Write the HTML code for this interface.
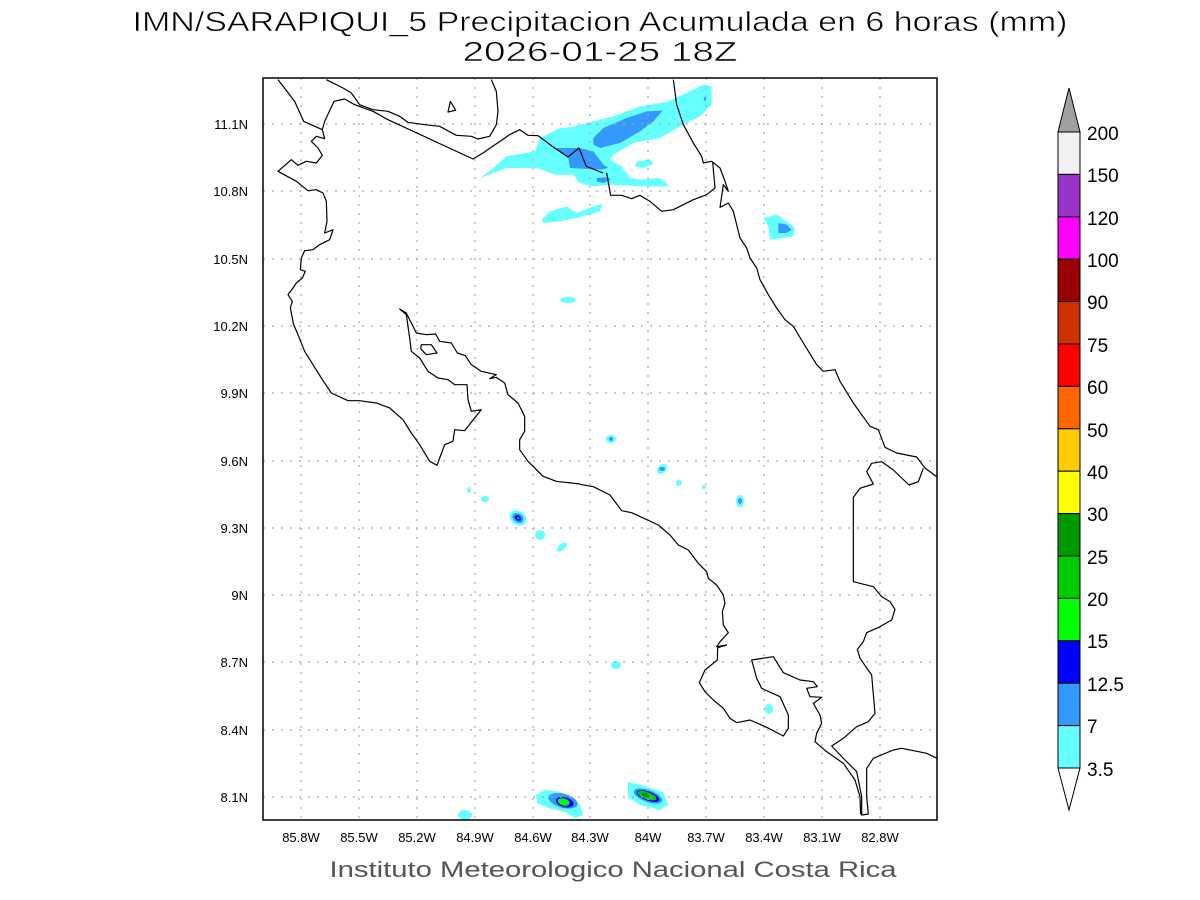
<!DOCTYPE html>
<html><head><meta charset="utf-8"><style>
html,body{margin:0;padding:0;background:#fff}
svg{display:block}
text{font-family:"Liberation Sans",sans-serif}
</style></head><body>
<svg width="1200" height="900" viewBox="0 0 1200 900" xmlns="http://www.w3.org/2000/svg">
<rect width="1200" height="900" fill="#fff"/>
<text x="600" y="31" font-size="28" text-anchor="middle" textLength="935" lengthAdjust="spacingAndGlyphs" fill="#000" stroke="#fff" stroke-width="0.6">IMN/SARAPIQUI_5 Precipitacion Acumulada en 6 horas (mm)</text>
<text x="600" y="61" font-size="28" text-anchor="middle" textLength="275" lengthAdjust="spacingAndGlyphs" fill="#000" stroke="#fff" stroke-width="0.6">2026-01-25 18Z</text>

<g transform="translate(440,78) scale(0.33333)">
<path fill="#66ffff" d="M120,300 L160,270 200,235 285,220 300,180 360,150 390,148 460,130 520,115 600,85 680,72 740,45 790,20 815,25 815,80 780,115 730,140 660,180 580,195 520,230 510,245 545,265 570,300 600,305 660,300 690,325 600,325 510,320 460,325 420,315 400,290 345,290 290,270 200,270 160,285 Z"/>
<path fill="#66ffff" d="M590,250 L630,245 640,258 610,270 585,265Z"/>
<path fill="#66ffff" d="M305,425 L330,400 380,385 410,405 460,385 488,378 480,400 410,420 360,430 310,435Z"/>
<path fill="#66ffff" d="M970,420 L1010,410 1040,430 1065,450 1060,475 1030,480 990,485 985,445Z"/>
<path fill="#3399ff" d="M460,180 L490,150 560,120 620,100 668,98 640,130 600,160 540,195 480,210 460,200Z"/>
<path fill="#3399ff" d="M340,210 L420,210 460,220 490,260 505,270 480,275 390,270 385,240Z"/>
<path fill="#3399ff" d="M470,300 L505,298 512,305 490,315 470,310Z"/>
<path fill="#3399ff" d="M790,60 L800,52 796,72Z"/>
<path fill="#3399ff" d="M1015,435 L1040,440 1055,455 1040,465 1015,465Z"/>
</g>
<g>
<ellipse cx="568" cy="300" rx="8" ry="3" fill="#66ffff"/>
<ellipse cx="611" cy="439" rx="5" ry="4" fill="#66ffff"/><ellipse cx="611" cy="439" rx="2" ry="2" fill="#3399ff"/>
<ellipse cx="662" cy="469" rx="6" ry="4" fill="#66ffff" transform="rotate(-45 662 469)"/><ellipse cx="662" cy="469" rx="3" ry="2" fill="#3399ff"/>
<ellipse cx="679" cy="483" rx="3" ry="3" fill="#66ffff"/>
<ellipse cx="704" cy="487" rx="2" ry="2" fill="#66ffff"/>
<ellipse cx="740" cy="501" rx="4" ry="6" fill="#66ffff"/><ellipse cx="740" cy="501" rx="2" ry="3" fill="#3399ff"/>
<ellipse cx="616" cy="665" rx="5" ry="4" fill="#66ffff"/>
<ellipse cx="769" cy="709" rx="4" ry="5" fill="#66ffff"/>
<ellipse cx="469" cy="490" rx="2" ry="3" fill="#66ffff"/>
<ellipse cx="485" cy="499" rx="4" ry="3" fill="#66ffff"/>
<ellipse cx="540" cy="535" rx="5" ry="5" fill="#66ffff"/>
<ellipse cx="562" cy="547" rx="6" ry="3" fill="#66ffff" transform="rotate(-40 562 547)"/>
<g transform="rotate(35 518 518)">
<ellipse cx="518" cy="518" rx="9" ry="7" fill="#66ffff"/>
<ellipse cx="518" cy="518" rx="6" ry="4.5" fill="#3399ff"/>
<ellipse cx="518" cy="518" rx="3.5" ry="2.5" fill="#0000ff"/>
<ellipse cx="518" cy="518" rx="1.5" ry="1" fill="#00cc00"/>
</g>
<ellipse cx="465" cy="815" rx="7" ry="5" fill="#66ffff"/>
<path fill="#66ffff" d="M536,795 L545,790 560,792 572,797 580,805 583,815 575,818 565,812 548,808 537,803Z"/>
<g transform="rotate(15 564 801)">
<ellipse cx="563" cy="801" rx="15" ry="7" fill="#3399ff"/>
<ellipse cx="565" cy="802" rx="9" ry="5" fill="#0000ff"/>
<ellipse cx="564" cy="802" rx="6" ry="3.5" fill="#00ff00"/>
</g>
<path fill="#66ffff" d="M628,782 L645,786 663,792 668,805 660,810 640,805 628,797Z"/>
<g transform="rotate(20 648 796)">
<ellipse cx="648" cy="796" rx="15" ry="6" fill="#3399ff"/>
<ellipse cx="648" cy="796" rx="12" ry="4.5" fill="#0000ff"/>
<ellipse cx="647" cy="796" rx="10" ry="3.5" fill="#00cc00"/>
<ellipse cx="645" cy="796" rx="4" ry="2" fill="#009900"/>
</g>
</g>

<g stroke="#aaa" stroke-width="1.2" stroke-dasharray="2,7">
<line x1="301" y1="78" x2="301" y2="820"/><line x1="359" y1="78" x2="359" y2="820"/><line x1="417" y1="78" x2="417" y2="820"/><line x1="475" y1="78" x2="475" y2="820"/><line x1="533" y1="78" x2="533" y2="820"/><line x1="590" y1="78" x2="590" y2="820"/><line x1="648" y1="78" x2="648" y2="820"/><line x1="706" y1="78" x2="706" y2="820"/><line x1="764" y1="78" x2="764" y2="820"/><line x1="822" y1="78" x2="822" y2="820"/><line x1="880" y1="78" x2="880" y2="820"/>
<line x1="263" y1="124" x2="937" y2="124"/><line x1="263" y1="191" x2="937" y2="191"/><line x1="263" y1="259" x2="937" y2="259"/><line x1="263" y1="326" x2="937" y2="326"/><line x1="263" y1="393" x2="937" y2="393"/><line x1="263" y1="461" x2="937" y2="461"/><line x1="263" y1="528" x2="937" y2="528"/><line x1="263" y1="595" x2="937" y2="595"/><line x1="263" y1="662" x2="937" y2="662"/><line x1="263" y1="730" x2="937" y2="730"/><line x1="263" y1="797" x2="937" y2="797"/>
</g>

<g fill="none" stroke="#000" stroke-width="3.6" stroke-linejoin="round">
<g transform="translate(263,78) scale(0.33333)">
<polyline points="45,5 95,70 122,130 178,155 185,182 160,175 145,190 165,210 178,232 160,255 130,250 105,262 85,245 45,280 100,310 135,338 160,335 180,345 190,370 192,430 185,465 210,455 200,485 170,500 150,515 125,518 115,540 112,575 127,580 118,600 100,615 90,630 75,650 88,670 82,690 92,740 105,770 125,820 150,860 175,900 205,945 255,968 290,968 340,975 380,990 420,1025 445,1065 470,1100 500,1150 522,1162 530,1140 545,1100 570,1090 575,1055 605,1058 655,995 625,1000 615,965 612,920 575,920 555,905 525,900 495,880 470,840 445,820 440,780 430,710 410,693 430,705 460,765 490,770 518,768 530,790 565,795 583,825 607,833 625,860 655,880 700,890 680,902 700,898 725,915 735,950 765,975 785,1015 785,1060 770,1085 770,1115 795,1150 840,1195 880,1210 951,1218"/>
<polyline points="178,155 185,130 213,70 245,63 275,80 330,100 375,125 630,243 660,225 740,170 770,155 795,172 825,173 875,210 915,237 948,210 970,265 1020,285"/>
<polyline points="190,5 240,30 265,45 290,80 330,95 375,100 410,115 435,133 485,140 530,145 580,172 625,175 645,183 680,175 700,140 705,100 700,40 685,5"/>
<polygon points="555,102 562,70 578,97"/>
<polygon points="475,800 505,800 522,825 490,830 473,812"/>
</g>
<g transform="translate(440,78) scale(0.33333)">
<polyline points="500,285 512,352 545,352 575,362 600,352 630,370 665,400 700,395 760,365 800,350 825,330 818,252"/>
</g>
<g transform="translate(640,78) scale(0.33333)">
<polyline points="100,5 110,80 130,140 160,195 185,235 190,255 215,250 240,270 255,310 265,340 250,320 240,388 265,375 280,400 290,440 300,480 320,510 330,540 350,570 360,605 385,650 410,690 435,725 460,745 490,795 530,860 550,880 585,875 600,910 640,975 690,1045 715,1055 735,1108 770,1125 830,1137 855,1170 891,1197"/>
</g>
<g transform="translate(580,420) scale(0.33333)">
<polyline points="1030,145 1015,185 987,195 940,150 905,125 875,130 860,155 880,192 840,205 820,232 820,485 880,500 905,530 930,545 945,568 935,600 900,620 860,638 850,665 832,688 840,715 875,765 885,880 865,905 830,920 790,955 755,978 795,1020 830,1055 845,1130 845,1185 865,1182 860,1130 860,1045 880,1015 940,990 965,985 1040,1000 1071,1015"/>
<polyline points="0,193 40,200 90,225 125,272 155,278 235,315 270,345 295,375 325,390 355,430 380,455 385,475 410,495 430,525 435,550 427,575 430,615 445,638 420,665 410,680 440,675 413,683 412,720 375,750 358,788 375,815 400,840 430,865 450,895 470,908 510,900 560,922 610,948 625,925 625,885 600,830 545,805 530,775 515,720 580,710 610,758 660,780 700,785 712,800 680,805 690,830 725,832 700,850 720,885 725,910 710,940 705,965 740,995 790,1030 825,1080 840,1130 842,1183"/>
</g>
</g>

<rect x="263" y="78" width="674" height="742" fill="none" stroke="#000" stroke-width="1.5"/>

<g font-size="13" fill="#000" text-anchor="end">
<text x="248" y="129">11.1N</text><text x="248" y="196">10.8N</text><text x="248" y="264">10.5N</text><text x="248" y="331">10.2N</text><text x="248" y="398">9.9N</text><text x="248" y="466">9.6N</text><text x="248" y="533">9.3N</text><text x="248" y="600">9N</text><text x="248" y="667">8.7N</text><text x="248" y="735">8.4N</text><text x="248" y="802">8.1N</text>
</g>
<g font-size="13" fill="#000" text-anchor="middle">
<text x="301" y="842">85.8W</text><text x="359" y="842">85.5W</text><text x="417" y="842">85.2W</text><text x="475" y="842">84.9W</text><text x="533" y="842">84.6W</text><text x="590" y="842">84.3W</text><text x="648" y="842">84W</text><text x="706" y="842">83.7W</text><text x="764" y="842">83.4W</text><text x="822" y="842">83.1W</text><text x="880" y="842">82.8W</text>
</g>
<text x="613" y="877" font-size="22" fill="#555" text-anchor="middle" textLength="567" lengthAdjust="spacingAndGlyphs">Instituto Meteorologico Nacional Costa Rica</text>

<g stroke="#000" stroke-width="1">
<polygon points="1058,132 1069,88 1080,132" fill="#a0a0a0"/>
<rect x="1058" y="132" width="22" height="42.4" fill="#f2f2f2"/>
<rect x="1058" y="174.4" width="22" height="42.4" fill="#9933cc"/>
<rect x="1058" y="216.8" width="22" height="42.4" fill="#ff00ff"/>
<rect x="1058" y="259.2" width="22" height="42.4" fill="#990000"/>
<rect x="1058" y="301.6" width="22" height="42.4" fill="#cc3300"/>
<rect x="1058" y="344" width="22" height="42.4" fill="#ff0000"/>
<rect x="1058" y="386.4" width="22" height="42.4" fill="#ff6600"/>
<rect x="1058" y="428.8" width="22" height="42.4" fill="#ffcc00"/>
<rect x="1058" y="471.2" width="22" height="42.4" fill="#ffff00"/>
<rect x="1058" y="513.6" width="22" height="42.4" fill="#009900"/>
<rect x="1058" y="556" width="22" height="42.4" fill="#00cc00"/>
<rect x="1058" y="598.4" width="22" height="42.4" fill="#00ff00"/>
<rect x="1058" y="640.8" width="22" height="42.4" fill="#0000ff"/>
<rect x="1058" y="683.2" width="22" height="42.4" fill="#3399ff"/>
<rect x="1058" y="725.6" width="22" height="42.4" fill="#66ffff"/>
<polygon points="1058,768 1069,810 1080,768" fill="#fff"/>
</g>
<g font-size="19" fill="#000">
<text x="1087" y="140">200</text><text x="1087" y="182">150</text><text x="1087" y="225">120</text><text x="1087" y="267">100</text><text x="1087" y="309">90</text><text x="1087" y="352">75</text><text x="1087" y="394">60</text><text x="1087" y="437">50</text><text x="1087" y="479">40</text><text x="1087" y="521">30</text><text x="1087" y="564">25</text><text x="1087" y="606">20</text><text x="1087" y="648">15</text><text x="1087" y="691">12.5</text><text x="1087" y="733">7</text><text x="1087" y="776">3.5</text>
</g>
</svg>
</body></html>
